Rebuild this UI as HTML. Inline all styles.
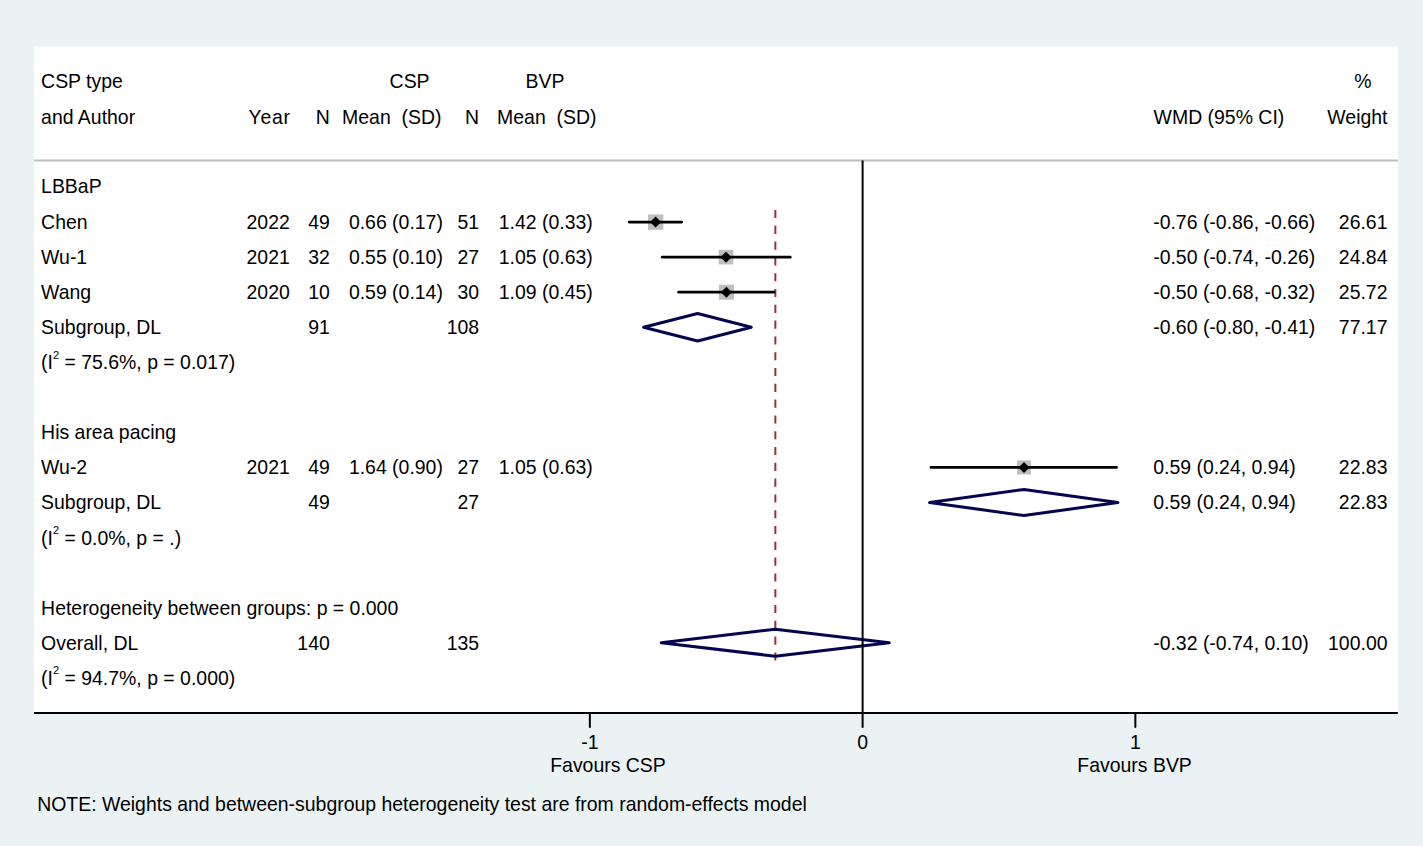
<!DOCTYPE html>
<html><head><meta charset="utf-8"><title>Forest plot</title>
<style>
html,body{margin:0;padding:0;background:#EAF2F3;}
body{width:1423px;height:846px;overflow:hidden;}
svg{display:block;}
text{font-family:"Liberation Sans",sans-serif;font-size:19.45px;fill:#000;white-space:pre;}
</style></head>
<body>
<svg width="1423" height="846" viewBox="0 0 1423 846">
<rect x="0" y="0" width="1423" height="846" fill="#EAF2F3"/>
<rect x="34" y="46.5" width="1363.8" height="666.5" fill="#FFFFFF"/>
<line x1="34" y1="160.6" x2="1397.8" y2="160.6" stroke="#BEBEBE" stroke-width="2"/>
<line x1="775.35" y1="210" x2="775.35" y2="660.6" stroke="#90353B" stroke-width="2" stroke-dasharray="8.1 7.7"/>
<rect x="647.95" y="214.45" width="15.3" height="15.3" fill="#BEBEBE"/>
<rect x="718.70" y="249.85" width="14.6" height="14.6" fill="#BEBEBE"/>
<rect x="718.90" y="284.70" width="15.0" height="15.0" fill="#BEBEBE"/>
<rect x="1017.00" y="460.45" width="14.0" height="14.0" fill="#BEBEBE"/>
<line x1="629.20" y1="222.10" x2="681.70" y2="222.10" stroke="#000" stroke-width="2.8" stroke-linecap="round"/>
<path d="M650.10 222.10 L655.60 216.60 L661.10 222.10 L655.60 227.60 Z" fill="#000"/>
<line x1="662.30" y1="257.15" x2="790.20" y2="257.15" stroke="#000" stroke-width="2.8" stroke-linecap="round"/>
<path d="M720.50 257.15 L726.00 251.65 L731.50 257.15 L726.00 262.65 Z" fill="#000"/>
<line x1="678.60" y1="292.20" x2="774.00" y2="292.20" stroke="#000" stroke-width="2.8" stroke-linecap="round"/>
<path d="M720.90 292.20 L726.40 286.70 L731.90 292.20 L726.40 297.70 Z" fill="#000"/>
<line x1="931.00" y1="467.45" x2="1116.50" y2="467.45" stroke="#000" stroke-width="2.8" stroke-linecap="round"/>
<path d="M1018.50 467.45 L1024.00 461.95 L1029.50 467.45 L1024.00 472.95 Z" fill="#000"/>
<path d="M643.6 327.25 L697.6 313.45 L751.3 327.25 L697.6 341.05 Z" fill="none" stroke="#06064E" stroke-width="3" stroke-linejoin="round"/>
<path d="M929.6 502.50 L1024.0 489.50 L1117.9 502.50 L1024.0 515.50 Z" fill="none" stroke="#06064E" stroke-width="3" stroke-linejoin="round"/>
<path d="M661.2 642.70 L775.2 629.20 L889.2 642.70 L775.2 656.20 Z" fill="none" stroke="#06064E" stroke-width="3" stroke-linejoin="round"/>
<line x1="862.6" y1="160.6" x2="862.6" y2="713" stroke="#000" stroke-width="2"/>
<line x1="34" y1="713" x2="1397.8" y2="713" stroke="#000" stroke-width="2"/>
<line x1="589.85" y1="713" x2="589.85" y2="727" stroke="#000" stroke-width="2" stroke-linecap="round"/>
<line x1="862.60" y1="713" x2="862.60" y2="727" stroke="#000" stroke-width="2" stroke-linecap="round"/>
<line x1="1135.35" y1="713" x2="1135.35" y2="727" stroke="#000" stroke-width="2" stroke-linecap="round"/>
<text x="41.10" y="87.80" text-anchor="start">CSP type</text>
<text x="389.60" y="87.80" text-anchor="start">CSP</text>
<text x="525.60" y="87.80" text-anchor="start">BVP</text>
<text x="1354.30" y="87.80" text-anchor="start">%</text>
<text x="41.10" y="123.58" text-anchor="start">and Author</text>
<text x="248.50" y="123.58" text-anchor="start" textLength="41.6">Year</text>
<text x="329.80" y="123.58" text-anchor="end">N</text>
<text x="342.10" y="124.18" text-anchor="start">Mean&#160; (SD)</text>
<text x="479.10" y="123.58" text-anchor="end">N</text>
<text x="497.10" y="124.18" text-anchor="start">Mean&#160; (SD)</text>
<text x="1153.60" y="123.58" text-anchor="start">WMD (95% CI)</text>
<text x="1387.50" y="123.58" text-anchor="end">Weight</text>
<text x="41.10" y="192.80" text-anchor="start">LBBaP</text>
<text x="41.10" y="228.82" text-anchor="start">Chen</text>
<text x="289.80" y="228.82" text-anchor="end">2022</text>
<text x="329.80" y="228.82" text-anchor="end">49</text>
<text x="442.90" y="228.82" text-anchor="end">0.66 (0.17)</text>
<text x="479.10" y="228.82" text-anchor="end">51</text>
<text x="592.80" y="228.82" text-anchor="end">1.42 (0.33)</text>
<text x="1153.20" y="228.82" text-anchor="start">-0.76 (-0.86, -0.66)</text>
<text x="1387.50" y="228.82" text-anchor="end">26.61</text>
<text x="41.10" y="263.90" text-anchor="start">Wu-1</text>
<text x="289.80" y="263.90" text-anchor="end">2021</text>
<text x="329.80" y="263.90" text-anchor="end">32</text>
<text x="442.90" y="263.90" text-anchor="end">0.55 (0.10)</text>
<text x="479.10" y="263.90" text-anchor="end">27</text>
<text x="592.80" y="263.90" text-anchor="end">1.05 (0.63)</text>
<text x="1153.20" y="263.90" text-anchor="start">-0.50 (-0.74, -0.26)</text>
<text x="1387.50" y="263.90" text-anchor="end">24.84</text>
<text x="41.10" y="298.98" text-anchor="start">Wang</text>
<text x="289.80" y="298.98" text-anchor="end">2020</text>
<text x="329.80" y="298.98" text-anchor="end">10</text>
<text x="442.90" y="298.98" text-anchor="end">0.59 (0.14)</text>
<text x="479.10" y="298.98" text-anchor="end">30</text>
<text x="592.80" y="298.98" text-anchor="end">1.09 (0.45)</text>
<text x="1153.20" y="298.98" text-anchor="start">-0.50 (-0.68, -0.32)</text>
<text x="1387.50" y="298.98" text-anchor="end">25.72</text>
<text x="41.10" y="334.06" text-anchor="start">Subgroup, DL</text>
<text x="329.80" y="334.06" text-anchor="end">91</text>
<text x="479.10" y="334.06" text-anchor="end">108</text>
<text x="1153.20" y="334.06" text-anchor="start">-0.60 (-0.80, -0.41)</text>
<text x="1387.50" y="334.06" text-anchor="end">77.17</text>
<text x="41.10" y="439.30" text-anchor="start">His area pacing</text>
<text x="41.10" y="474.38" text-anchor="start">Wu-2</text>
<text x="289.80" y="474.38" text-anchor="end">2021</text>
<text x="329.80" y="474.38" text-anchor="end">49</text>
<text x="442.90" y="474.38" text-anchor="end">1.64 (0.90)</text>
<text x="479.10" y="474.38" text-anchor="end">27</text>
<text x="592.80" y="474.38" text-anchor="end">1.05 (0.63)</text>
<text x="1153.20" y="474.38" text-anchor="start">0.59 (0.24, 0.94)</text>
<text x="1387.50" y="474.38" text-anchor="end">22.83</text>
<text x="41.10" y="509.46" text-anchor="start">Subgroup, DL</text>
<text x="329.80" y="509.46" text-anchor="end">49</text>
<text x="479.10" y="509.46" text-anchor="end">27</text>
<text x="1153.20" y="509.46" text-anchor="start">0.59 (0.24, 0.94)</text>
<text x="1387.50" y="509.46" text-anchor="end">22.83</text>
<text x="41.10" y="614.70" text-anchor="start">Heterogeneity between groups: p = 0.000</text>
<text x="41.10" y="649.78" text-anchor="start">Overall, DL</text>
<text x="329.80" y="649.78" text-anchor="end">140</text>
<text x="479.10" y="649.78" text-anchor="end">135</text>
<text x="1153.20" y="649.78" text-anchor="start">-0.32 (-0.74, 0.10)</text>
<text x="1387.50" y="649.78" text-anchor="end">100.00</text>
<text x="41.10" y="369.14" text-anchor="start">(I<tspan font-size="11" dy="-10.6">2</tspan><tspan dy="10.6"> = 75.6%, p = 0.017)</tspan></text>
<text x="41.10" y="544.54" text-anchor="start">(I<tspan font-size="11" dy="-10.6">2</tspan><tspan dy="10.6"> = 0.0%, p = .)</tspan></text>
<text x="41.10" y="684.86" text-anchor="start">(I<tspan font-size="11" dy="-10.6">2</tspan><tspan dy="10.6"> = 94.7%, p = 0.000)</tspan></text>
<text x="589.85" y="748.60" text-anchor="middle">-1</text>
<text x="862.60" y="748.60" text-anchor="middle">0</text>
<text x="1135.35" y="748.60" text-anchor="middle">1</text>
<text x="608.00" y="772.20" text-anchor="middle">Favours CSP</text>
<text x="1134.60" y="772.00" text-anchor="middle">Favours BVP</text>
<text x="37.20" y="810.80" text-anchor="start">NOTE: Weights and between-subgroup heterogeneity test are from random-effects model</text>
</svg>
</body></html>
